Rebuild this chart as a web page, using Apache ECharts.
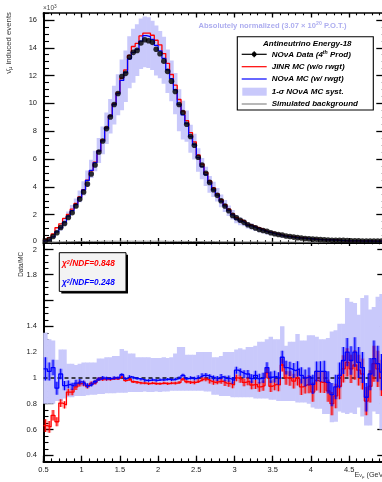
<!DOCTYPE html>
<html><head><meta charset="utf-8">
<script src="https://cdn.jsdelivr.net/npm/echarts@6/dist/echarts.min.js"></script>
<style>html,body{margin:0;padding:0;background:#fff}#c{width:382px;height:482px}</style>
</head><body><div id="c"></div>
<script>
// ---------------- data ----------------
const binStart = 0.5, binWidth = 0.05;           // GeV
// NOvA data, x10^3 events per bin
const dataEvents = [0.12,0.22,0.43,0.70,1.08,1.37,1.80,2.14,2.62,3.12,
 3.63,4.20,4.92,5.57,6.51,7.30,8.19,9.03,9.92,10.71,
 11.94,12.16,13.33,13.67,13.81,14.34,14.58,14.51,14.39,13.89,
 13.57,13.04,12.30,11.60,10.86,9.92,9.35,8.50,7.62,6.99,
 6.13,5.57,4.98,4.32,3.79,3.39,3.00,2.62,2.28,1.95,
 1.78,1.60,1.45,1.28,1.15,1.05,0.94,0.86,0.80,0.70,
 0.63,0.57,0.54,0.47,0.43,0.39,0.35,0.32,0.29,0.27,
 0.24,0.23,0.21,0.20,0.18,0.16,0.16,0.15,0.15,0.14,
 0.13,0.13,0.12,0.11,0.10,0.11,0.11,0.10,0.10,0.09];
// JINR MC (w/o rwgt)
const mcJINR = [0.19,0.355,0.61,1.06,1.34,1.73,2.02,2.40,2.82,3.27,
 3.80,4.49,5.15,5.77,6.58,7.37,8.27,9.12,9.97,10.76,
 11.82,12.41,13.46,14.09,14.31,14.85,15.05,15.05,14.90,14.54,
 14.21,13.58,12.88,12.08,11.31,10.28,9.44,8.76,7.90,7.24,
 6.29,5.63,5.03,4.43,3.92,3.49,3.08,2.73,2.39,2.06,
 1.78,1.62,1.50,1.31,1.22,1.11,1.01,0.91,0.77,0.75,
 0.66,0.60,0.49,0.47,0.43,0.40,0.35,0.34,0.31,0.28,
 0.27,0.235,0.22,0.21,0.20,0.20,0.19,0.16,0.14,0.125,
 0.12,0.12,0.11,0.11,0.12,0.12,0.10,0.093,0.10,0.095];
// NOvA MC (w/ rwgt)
const mcNOvA = [0.112,0.21,0.40,0.76,1.05,1.46,1.89,2.29,2.73,3.22,
 3.78,4.47,5.18,5.74,6.58,7.30,8.23,9.08,9.92,10.71,
 11.65,12.22,13.20,13.67,13.88,14.48,14.88,14.81,14.61,14.17,
 13.78,13.24,12.42,11.78,10.97,9.92,9.17,8.54,7.62,7.03,
 6.10,5.46,4.88,4.28,3.79,3.41,2.97,2.63,2.29,1.99,
 1.68,1.53,1.41,1.24,1.16,1.03,0.94,0.86,0.74,0.70,
 0.62,0.57,0.47,0.435,0.40,0.37,0.33,0.31,0.29,0.27,
 0.25,0.22,0.20,0.19,0.19,0.18,0.17,0.15,0.13,0.12,
 0.115,0.11,0.11,0.10,0.12,0.107,0.096,0.09,0.096,0.09];
// 1-sigma syst band, lower / upper edge
const sysLo = [0.083,0.16,0.31,0.67,0.86,1.20,1.70,2.06,2.48,2.90,
 3.38,3.99,4.63,5.13,5.72,6.35,7.09,7.83,8.48,9.15,
 9.51,10.10,11.09,11.49,11.97,12.48,12.6,12.55,12.4,12.0,
 11.8,11.41,10.75,10.16,9.22,8.0,7.40,7.24,6.46,5.96,
 5.08,4.55,4.07,3.57,3.27,2.94,2.54,2.19,1.91,1.66,
 1.38,1.24,1.16,1.0,0.94,0.82,0.73,0.67,0.57,0.53,
 0.48,0.44,0.34,0.35,0.31,0.29,0.25,0.24,0.22,0.20,
 0.19,0.17,0.15,0.15,0.145,0.13,0.12,0.11,0.09,0.07,
 0.07,0.07,0.07,0.06,0.07,0.07,0.06,0.055,0.06,0.056];
const sysHi = [0.14,0.26,0.50,0.93,1.28,1.74,2.22,2.69,3.17,3.74,
 4.40,5.17,5.95,6.60,7.52,8.34,9.35,10.32,11.27,12.10,
 13.16,13.81,14.83,15.36,15.7,16.1,16.25,16.2,15.95,15.6,
 15.2,14.79,13.88,13.09,12.19,11.02,10.19,9.49,8.47,7.81,
 6.78,6.07,5.45,4.78,4.36,3.92,3.45,3.06,2.66,2.34,
 1.98,1.80,1.66,1.46,1.36,1.23,1.12,1.02,0.88,0.84,
 0.75,0.70,0.57,0.53,0.49,0.45,0.41,0.38,0.36,0.34,
 0.32,0.29,0.26,0.26,0.26,0.27,0.26,0.20,0.18,0.17,
 0.16,0.15,0.14,0.14,0.19,0.17,0.13,0.125,0.16,0.14];
// simulated background (hidden along the axis)
const bkgEvents = [0.01,0.02,0.03,0.04,0.05,0.05,0.06,0.06,0.07,0.07,
 0.07,0.08,0.08,0.08,0.08,0.09,0.09,0.09,0.09,0.09,
 0.09,0.09,0.09,0.09,0.09,0.09,0.09,0.09,0.09,0.09,
 0.09,0.09,0.08,0.08,0.08,0.08,0.08,0.07,0.07,0.07,
 0.07,0.06,0.06,0.06,0.06,0.05,0.05,0.05,0.05,0.05,
 0.04,0.04,0.04,0.04,0.04,0.04,0.03,0.03,0.03,0.03,
 0.03,0.03,0.03,0.03,0.03,0.03,0.02,0.02,0.02,0.02,
 0.02,0.02,0.02,0.02,0.02,0.02,0.02,0.02,0.02,0.02,
 0.02,0.02,0.02,0.02,0.02,0.02,0.02,0.02,0.02,0.02];
// Data / MC
const ratioJINR = [0.63,0.62,0.71,0.66,0.805,0.79,0.89,0.89,0.93,0.955,
 0.955,0.935,0.955,0.965,0.99,0.99,0.99,0.99,0.995,0.995,
 1.01,0.98,0.99,0.97,0.965,0.96,0.96,0.955,0.96,0.955,
 0.955,0.96,0.955,0.96,0.96,0.965,0.99,0.97,0.965,0.965,
 0.975,0.99,0.99,0.975,0.966,0.97,0.975,0.96,0.955,0.945,
 1.0,0.99,0.965,0.975,0.945,0.95,0.93,0.94,1.04,0.935,
 0.95,0.945,1.1,1.0,0.995,0.975,1.0,0.93,0.945,0.95,
 0.89,0.98,0.965,0.965,0.9,0.8,0.86,0.935,1.07,1.12,
 1.07,1.1,1.06,1.03,0.82,0.935,1.11,1.07,1.0,0.95];
const ratioNOvA = [1.07,1.05,1.08,0.92,1.03,0.94,0.95,0.935,0.96,0.97,
 0.96,0.94,0.95,0.97,0.99,1.0,0.995,0.995,1.0,1.0,
 1.025,0.995,1.01,1.0,0.995,0.99,0.98,0.98,0.985,0.98,
 0.985,0.985,0.99,0.985,0.99,1.0,1.02,0.995,1.0,0.995,
 1.005,1.02,1.02,1.01,1.0,0.995,1.01,0.995,0.995,0.98,
 1.06,1.045,1.03,1.03,0.995,1.02,0.995,1.0,1.08,1.005,
 1.01,0.995,1.16,1.08,1.07,1.057,1.07,1.02,1.0,1.01,
 0.95,1.05,1.05,1.05,0.965,0.87,0.93,1.02,1.135,1.2,
 1.135,1.2,1.12,1.08,0.85,1.03,1.15,1.11,1.045,1.0];
const ratioErrJINR = [0.05,0.045,0.04,0.035,0.03,0.028,0.026,0.025,0.024,0.022,
 0.02,0.018,0.017,0.016,0.015,0.014,0.013,0.012,0.012,0.011,
 0.011,0.01,0.01,0.01,0.01,0.01,0.01,0.01,0.01,0.01,
 0.01,0.01,0.01,0.01,0.011,0.011,0.012,0.012,0.013,0.014,
 0.015,0.016,0.017,0.018,0.019,0.02,0.021,0.022,0.024,0.026,
 0.027,0.028,0.03,0.032,0.034,0.036,0.038,0.04,0.042,0.044,
 0.046,0.048,0.05,0.053,0.056,0.058,0.06,0.063,0.066,0.07,
 0.075,0.078,0.08,0.083,0.086,0.09,0.095,0.1,0.105,0.11,
 0.11,0.115,0.12,0.12,0.11,0.125,0.14,0.14,0.14,0.15];
const ratioErrNOvA = [0.09,0.07,0.06,0.05,0.04,0.035,0.03,0.028,0.025,0.022,
 0.02,0.018,0.017,0.016,0.015,0.014,0.013,0.012,0.012,0.011,
 0.011,0.01,0.01,0.01,0.01,0.01,0.01,0.01,0.01,0.01,
 0.01,0.01,0.01,0.01,0.011,0.011,0.012,0.012,0.013,0.014,
 0.015,0.016,0.017,0.018,0.019,0.02,0.021,0.022,0.024,0.026,
 0.027,0.028,0.03,0.032,0.034,0.036,0.038,0.04,0.042,0.044,
 0.046,0.048,0.05,0.053,0.056,0.058,0.06,0.063,0.066,0.07,
 0.075,0.078,0.08,0.083,0.086,0.09,0.095,0.1,0.105,0.11,
 0.11,0.115,0.12,0.12,0.11,0.125,0.14,0.14,0.14,0.15];
const ratioSysLo = [0.8,0.8,0.8,0.82,0.82,0.84,0.85,0.85,0.86,0.86,
 0.86,0.865,0.87,0.87,0.875,0.875,0.88,0.88,0.88,0.885,
 0.885,0.885,0.89,0.89,0.89,0.89,0.895,0.89,0.89,0.895,
 0.89,0.895,0.895,0.9,0.9,0.9,0.9,0.9,0.9,0.9,
 0.9,0.9,0.895,0.895,0.87,0.87,0.86,0.86,0.86,0.85,
 0.85,0.85,0.85,0.85,0.85,0.84,0.84,0.84,0.84,0.83,
 0.83,0.82,0.82,0.82,0.82,0.82,0.81,0.81,0.81,0.8,
 0.77,0.76,0.76,0.72,0.72,0.655,0.66,0.74,0.73,0.72,
 0.73,0.72,0.77,0.7,0.63,0.63,0.74,0.72,0.6,0.65];
const ratioSysHi = [1.35,1.30,1.29,1.14,1.22,1.22,1.11,1.11,1.10,1.11,
 1.12,1.12,1.12,1.12,1.15,1.15,1.16,1.16,1.17,1.17,
 1.225,1.21,1.19,1.19,1.16,1.16,1.16,1.16,1.155,1.155,
 1.155,1.16,1.155,1.16,1.19,1.24,1.24,1.18,1.18,1.18,
 1.2,1.2,1.2,1.2,1.16,1.16,1.17,1.2,1.2,1.2,
 1.22,1.23,1.22,1.24,1.24,1.25,1.28,1.28,1.3,1.32,
 1.3,1.3,1.4,1.25,1.28,1.28,1.34,1.29,1.29,1.33,
 1.33,1.32,1.3,1.3,1.31,1.36,1.37,1.42,1.42,1.62,
 1.59,1.58,1.49,1.62,1.64,1.53,1.55,1.63,1.65,1.6];
// axis ticks / labels
const xMin = 0.5, xMax = 5.0, xMinorStep = 0.1;
const xMajorTicks = [0.5,1,1.5,2,2.5,3,3.5,4,4.5,5];
const topYMax = 16.5, topMinorStep = 0.5;
const topYTicks = [0,2,4,6,8,10,12,14,16];
const ratioYMin = 0.35, ratioYMax = 2.05, ratioMinorStep = 0.05;
const ratioYTicks = [0.4,0.6,0.8,1,1.2,1.4,1.6,1.8,2];
const ratioYLabels = [0.4,0.6,0.8,1,1.2,1.4,1.8,2];   // 1.6 carries no label in the reference
const legendLabels = ['{t|NOνA Data (4}{s|th}{t| Prod)}','{t|JINR MC (w/o rwgt)}','{t|NOνA MC (w/ rwgt)}','{t|1-σ NOνA MC syst.}','{t|Simulated background}'];
const chi2Labels = ['χ²/NDF=0.848','χ²/NDF=0.248'];

// ---------------- helpers ----------------
const edges = Array.from({length: dataEvents.length + 1}, (_, i) => +(binStart + i * binWidth).toFixed(4));
const centers = dataEvents.map((_, i) => (edges[i] + edges[i + 1]) / 2);
const FONT = 'Liberation Sans';
const BAND = '#c9c9fb';
function stepData(vals) { const d = []; vals.forEach((v, i) => { d.push([edges[i], v]); d.push([edges[i + 1], v]); }); return d; }
function stepSeries(ax, vals, color, w) {
  return {type:'line', xAxisIndex:ax, yAxisIndex:ax, data:stepData(vals), symbol:'none', showSymbol:false,
    lineStyle:{color, width:w}, silent:true, clip:true, z:3};
}
function rectSeries(ax, lo, hi, color, pad, z) {
  return {type:'custom', xAxisIndex:ax, yAxisIndex:ax, silent:true, clip:true, z,
    data: lo.map((v, i) => [edges[i], edges[i + 1], v, hi[i]]),
    encode:{x:[0,1], y:[2,3]},
    renderItem(p, api) {
      const a = api.coord([api.value(0), api.value(3)]);
      const b = api.coord([api.value(1), api.value(2)]);
      return {type:'rect', shape:{x:a[0]-pad, y:a[1], width:b[0]-a[0]+2*pad, height:b[1]-a[1]}, style:{fill:color}};
    }};
}
function errSeries(ax, vals, errs, color, z) {
  return {type:'custom', xAxisIndex:ax, yAxisIndex:ax, silent:true, clip:true, z,
    data: vals.map((v, i) => [centers[i], v - errs[i], v + errs[i]]),
    encode:{x:0, y:[1,2]},
    renderItem(p, api) {
      const a = api.coord([api.value(0), api.value(1)]);
      const b = api.coord([api.value(0), api.value(2)]);
      return {type:'line', shape:{x1:a[0], y1:a[1], x2:b[0], y2:b[1]}, style:{stroke:color, lineWidth:1.1}};
    }};
}
const ls = w => ({color:'#000', width:w});
const LABEL_SIZE = 7.5, LABEL_COLOR = '#1a1a1a', Y_LABEL_MARGIN = 6.5;
const labelStyle = {fontFamily:FONT, fontSize:LABEL_SIZE, color:LABEL_COLOR};
function fmtNum(v) { return String(+(+v).toFixed(2)); }
function axisPair(grid, pos, min, max, majors, minorStep, majLen, minLen, lineW, showLabels, margin) {
  const base = {type:'value', gridIndex:grid, min, max, position:pos, splitLine:{show:false}, axisPointer:{show:false}};
  return [
    Object.assign({}, base, {
      axisLine:{show:true, onZero:false, lineStyle:ls(lineW)},
      axisTick:{show:true, inside:true, length:majLen, customValues:majors, lineStyle:ls(1.3)},
      axisLabel:Object.assign({show:showLabels, customValues:majors, margin, formatter:fmtNum}, labelStyle)
    }),
    Object.assign({}, base, {interval:minorStep,
      axisLine:{show:false, onZero:false},
      axisTick:{show:true, inside:true, length:minLen, lineStyle:ls(1.1)},
      axisLabel:{show:false}})
  ];
}
const xAxes = [
  ...axisPair(0, 'bottom', xMin, xMax, xMajorTicks, xMinorStep, 4.5, 2.3, 2, false, 3),
  ...axisPair(0, 'top', xMin, xMax, xMajorTicks, xMinorStep, 4.5, 2.3, 1.6, false, 3),
  ...axisPair(1, 'bottom', xMin, xMax, xMajorTicks, xMinorStep, 6, 3.3, 2, true, 4.5),
  ...axisPair(1, 'top', xMin, xMax, xMajorTicks, xMinorStep, 3.5, 1.8, 1.6, false, 3)
];
// y labels of both panels are placed below through each axis' own scale (convertToPixel)
const yAxes = [
  ...axisPair(0, 'left', 0, topYMax, topYTicks, topMinorStep, 11, 5.5, 2, false, Y_LABEL_MARGIN),
  ...axisPair(0, 'right', 0, topYMax, topYTicks, topMinorStep, 11, 5.5, 1.6, false, 6),
  ...axisPair(1, 'left', ratioYMin, ratioYMax, ratioYTicks, ratioMinorStep, 10, 5, 2, false, Y_LABEL_MARGIN),
  ...axisPair(1, 'right', ratioYMin, ratioYMax, ratioYTicks, ratioMinorStep, 10, 5, 1.6, false, 6)
];

const series = [
  rectSeries(0, sysLo, sysHi, BAND, 0.3, 1),
  stepSeries(0, bkgEvents, '#888', 1),
  stepSeries(0, mcJINR, '#ff0000', 1.3),
  stepSeries(0, mcNOvA, '#0000ff', 1.3),
  {type:'scatter', xAxisIndex:0, yAxisIndex:0, data:dataEvents.map((v, i) => [centers[i], v]),
    symbol:'circle', symbolSize:5.6, itemStyle:{color:'#000'}, silent:true, z:5},
  rectSeries(4, ratioSysLo, ratioSysHi, BAND, 0.3, 1),
  {type:'line', xAxisIndex:4, yAxisIndex:4, data:[[xMin,1],[xMax,1]], symbol:'none',
    lineStyle:{color:'#111', width:1.5, type:[4,3]}, silent:true, z:2},
  rectSeries(4, ratioJINR.map((v, i) => v - ratioErrJINR[i]), ratioJINR.map((v, i) => v + ratioErrJINR[i]), 'rgba(255,0,0,0.35)', 0, 3),
  errSeries(4, ratioJINR, ratioErrJINR, '#ff0000', 3),
  stepSeries(4, ratioJINR, '#ff0000', 1.3),
  rectSeries(4, ratioNOvA.map((v, i) => v - ratioErrNOvA[i]), ratioNOvA.map((v, i) => v + ratioErrNOvA[i]), 'rgba(0,0,255,0.3)', 0, 4),
  errSeries(4, ratioNOvA, ratioErrNOvA, '#0000ff', 4),
  Object.assign(stepSeries(4, ratioNOvA, '#0000ff', 1.3), {z:4})
];

// ---------------- annotations ----------------
const tStyle = (fs, color, extra) => Object.assign({fontFamily:FONT, fontSize:fs, fill:color}, extra || {});
const BI = {fontWeight:'bold', fontStyle:'italic'};
const LG = {x:237.3, y:36.7, w:136, h:73.3};
const rowY = [54.3, 66.7, 79.0, 91.7, 104.0];
const symX0 = 241.7, symX1 = 266.7, txtX = 271.7;
const graphic = [
  {type:'text', x:43, y:8, style:{text:'{a|×10}{s|3}', verticalAlign:'middle', align:'left',
    rich:{a:tStyle(6.5,'#444'), s:tStyle(4.8,'#444',{verticalAlign:'top'})}}},
  {type:'text', x:9, y:12, rotation:Math.PI/2, style:{text:'{a|\u03BD\u0304}{b|μ}{a| induced events}', align:'right', verticalAlign:'middle',
    rich:{a:tStyle(7.8,'#333'), b:tStyle(5.5,'#333',{verticalAlign:'bottom'})}}},
  {type:'text', x:21, y:252, rotation:Math.PI/2, style:{text:'Data/MC', align:'right', verticalAlign:'middle',
    fontFamily:FONT, fontSize:6.3, fill:'#333'}},
  {type:'text', x:354.5, y:475, style:{text:'{a|E}{b|ν}{c|μ}{a| (GeV)}', align:'left', verticalAlign:'middle',
    rich:{a:tStyle(7.3,'#333'), b:tStyle(5.3,'#333',{verticalAlign:'bottom'}), c:tStyle(4.2,'#333',{verticalAlign:'bottom'})}}},
  {type:'text', x:198.5, y:25.5, style:{text:'{a|Absolutely normalized (3.07 × 10}{s|20}{a| P.O.T.)}', align:'left', verticalAlign:'middle',
    rich:{a:tStyle(7.6,'#adadef',{fontWeight:'bold'}), s:tStyle(5.2,'#adadef',{fontWeight:'bold', verticalAlign:'top'})}}},
  // legend
  {type:'rect', shape:{x:LG.x, y:LG.y, width:LG.w, height:LG.h}, style:{fill:'#fff', stroke:'#000', lineWidth:1.1}, z:10},
  {type:'text', x:LG.x + LG.w/2 + 2, y:43.6, z:11, style:Object.assign({text:'Antineutrino Energy-18', align:'center', verticalAlign:'middle'}, tStyle(8,'#000',BI))},
  {type:'line', shape:{x1:symX0, y1:rowY[0], x2:symX1, y2:rowY[0]}, style:{stroke:'#000', lineWidth:1.2}, z:11},
  {type:'line', shape:{x1:(symX0+symX1)/2, y1:rowY[0]-3, x2:(symX0+symX1)/2, y2:rowY[0]+3}, style:{stroke:'#000', lineWidth:1.2}, z:11},
  {type:'circle', shape:{cx:(symX0+symX1)/2, cy:rowY[0], r:2.4}, style:{fill:'#000'}, z:11},
  {type:'line', shape:{x1:symX0, y1:rowY[1], x2:symX1, y2:rowY[1]}, style:{stroke:'#ff0000', lineWidth:1.2}, z:11},
  {type:'line', shape:{x1:symX0, y1:rowY[2], x2:symX1, y2:rowY[2]}, style:{stroke:'#0000ff', lineWidth:1.2}, z:11},
  {type:'rect', shape:{x:symX0+0.6, y:rowY[3]-4, width:symX1-symX0-0.6, height:8}, style:{fill:BAND}, z:11},
  {type:'line', shape:{x1:symX0, y1:rowY[4], x2:symX1, y2:rowY[4]}, style:{stroke:'#888', lineWidth:1.2}, z:11},
  ...legendLabels.map((t, i) => ({type:'text', x:txtX, y:rowY[i], z:11, style:{text:t, align:'left', verticalAlign:'middle',
    rich:{t:tStyle(8,'#000',BI), s:tStyle(5.2,'#000',Object.assign({verticalAlign:'top'},BI))}}})),
  // chi2 box
  {type:'rect', shape:{x:61.3, y:254.7, width:66.7, height:38.7}, style:{fill:'#000'}, z:10},
  {type:'rect', shape:{x:59.3, y:252.7, width:66.7, height:38.7}, style:{fill:'#f3f3f3', stroke:'#000', lineWidth:1}, z:11},
  ...chi2Labels.map((t, i) => ({type:'text', x:62, y:i ? 282.3 : 263.5, z:12, style:{
    text:'{a|χ}{s|2}{a|' + t.slice(2) + '}', align:'left', verticalAlign:'middle',
    rich:{a:tStyle(8.3, i ? '#0000ff' : '#ff0000', BI), s:tStyle(5.5, i ? '#0000ff' : '#ff0000', Object.assign({verticalAlign:'top'},BI))}}}))
];

const GRID_LEFT = 43.5;
const chart = echarts.init(document.getElementById('c'), null, {renderer:'canvas', width:382, height:482});
chart.setOption({
  animation:false,
  backgroundColor:'#fff',
  grid:[
    {left:GRID_LEFT, top:13, width:343.8, height:229.5, containLabel:false, outerBoundsMode:'none'},
    {left:GRID_LEFT, top:242.5, width:343.8, height:219.2, containLabel:false, outerBoundsMode:'none'}
  ],
  xAxis:xAxes,
  yAxis:yAxes,
  series,
  graphic
});
// y-axis labels of both panels, positioned through each axis scale
function yLabelEls(axisIndex, values, dy) {
  return values.map(v => ({type:'text', x:GRID_LEFT - Y_LABEL_MARGIN,
    y:chart.convertToPixel({yAxisIndex:axisIndex}, v) + (dy || 0), z:20, zlevel:0,
    style:{text:fmtNum(v), align:'right', verticalAlign:'middle', fontFamily:FONT, fontSize:LABEL_SIZE, fill:LABEL_COLOR}}));
}
const topLabelEls = yLabelEls(0, topYTicks.filter(v => v !== 0), 0).concat(yLabelEls(0, [0], -1.5));
const ratioLabelEls = yLabelEls(4, ratioYLabels.filter(v => v !== 2), 0).concat(yLabelEls(4, [2], 1));
chart.setOption({graphic: graphic.concat(topLabelEls, ratioLabelEls)});
</script>
</body></html>
